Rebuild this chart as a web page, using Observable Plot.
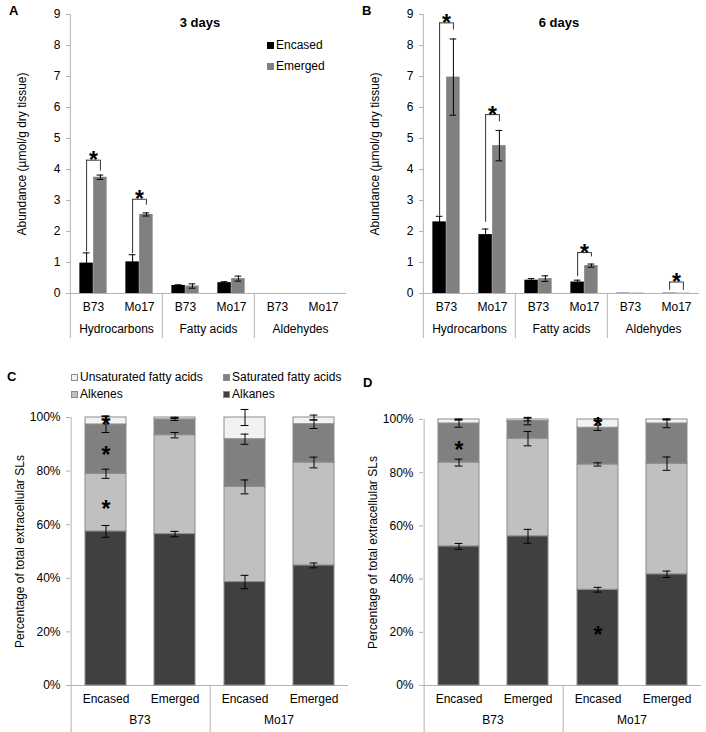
<!DOCTYPE html>
<html><head><meta charset="utf-8">
<script src="https://cdn.jsdelivr.net/npm/d3@7"></script>
<script src="https://cdn.jsdelivr.net/npm/@observablehq/plot@0.6"></script>
<style>
body{margin:0;background:#fff;font-family:"Liberation Sans",Arial,sans-serif;color:#000;}
#fig{position:relative;width:706px;height:732px;overflow:hidden;}
.panel{position:absolute;}
.lbl{position:absolute;font-weight:bold;font-size:13px;line-height:13px;}
.title{position:absolute;font-weight:bold;font-size:13px;line-height:13px;transform:translateX(-50%);white-space:nowrap;}
.leg{position:absolute;font-size:12px;line-height:12px;display:flex;align-items:center;white-space:nowrap;}
.sw{display:inline-block;width:7px;height:7px;margin-right:2px;box-sizing:border-box;}
</style></head><body><div id="fig"></div><script>
// ---------- Data: panels A & B ----------
const groupsAB = ["Hydrocarbons", "Fatty acids", "Aldehydes"];
const genotypes = ["B73", "Mo17"];
const conditions = ["Encased", "Emerged"];
// order: Hydrocarbons B73, Hydrocarbons Mo17, Fatty acids B73, Fatty acids Mo17, Aldehydes B73, Aldehydes Mo17
const day3Encased    = [0.98, 1.02, 0.26, 0.35, 0, 0];
const day3EncasedErr = [0.33, 0.23, 0.02, 0.03, 0, 0];
const day3Emerged    = [3.75, 2.55, 0.24, 0.48, 0, 0];
const day3EmergedErr = [0.07, 0.05, 0.07, 0.08, 0, 0];
const day6Encased    = [2.31, 1.90, 0.43, 0.37, 0.01, 0.01];
const day6EncasedErr = [0.18, 0.18, 0.05, 0.06, 0, 0];
const day6Emerged    = [6.98, 4.77, 0.48, 0.90, 0.01, 0.01];
const day6EmergedErr = [1.23, 0.49, 0.09, 0.05, 0, 0];
// significance brackets: [group, genotype, left leg bottom, bracket top, right leg bottom]
const day3Brackets = [
  ["Hydrocarbons", "B73", 1.35, 4.30, 3.95],
  ["Hydrocarbons", "Mo17", 1.28, 3.04, 2.85]
];
const day6Brackets = [
  ["Hydrocarbons", "B73", 2.50, 8.73, 8.50],
  ["Hydrocarbons", "Mo17", 2.30, 5.77, 5.54],
  ["Fatty acids", "Mo17", 0.54, 1.32, 1.18],
  ["Aldehydes", "Mo17", 0.10, 0.37, 0.10]
];
const abundanceTicks = [0, 1, 2, 3, 4, 5, 6, 7, 8, 9];

// ---------- Data: panels C & D ----------
const subclasses = ["Alkanes", "Alkenes", "Saturated fatty acids", "Unsaturated fatty acids"];
const subclassColors = ["#404040", "#c0c0c0", "#808080", "#f2f2f2"];
// bar order: B73 Encased, B73 Emerged, Mo17 Encased, Mo17 Emerged
const barGenotype = ["B73", "B73", "Mo17", "Mo17"];
const barCondition = ["Encased", "Emerged", "Encased", "Emerged"];
const c3Alkanes  = [57.5, 56.5, 38.6, 44.8];
const c3Alkenes  = [21.5, 36.9, 35.5, 38.4];
const c3SatFA    = [18.4, 5.9, 17.8, 14.3];
const c3UnsatFA  = [2.6, 0.7, 8.1, 2.5];
const c3AlkanesErr = [2.2, 1.0, 2.5, 0.9];
const c3AlkenesErr = [1.7, 1.0, 2.6, 2.0];
const c3SatFAErr   = [3.0, 0.4, 1.9, 1.6];
const c3UnsatFAErr = [0.6, 0.1, 3.0, 0.9];
const c6Alkanes  = [52.3, 56.1, 36.0, 41.8];
const c6Alkenes  = [31.5, 36.7, 47.1, 41.6];
const c6SatFA    = [14.7, 6.6, 13.8, 15.1];
const c6UnsatFA  = [1.5, 0.6, 3.1, 1.5];
const c6AlkanesErr = [1.1, 2.6, 0.9, 1.2];
const c6AlkenesErr = [1.3, 2.7, 0.6, 2.5];
const c6SatFAErr   = [1.4, 1.4, 1.0, 1.6];
const c6UnsatFAErr = [0.2, 0.5, 0.3, 0.2];
// stars: [genotype, condition, y position (%)]
const c3Stars = [["B73", "Encased", 99.0], ["B73", "Encased", 87.8], ["B73", "Encased", 67.6]];
const c6Stars = [["B73", "Encased", 90.3], ["Mo17", "Encased", 99.1], ["Mo17", "Encased", 20.7]];
const percentTicks = [0, 20, 40, 60, 80, 100];

// ---------- Styles ----------
const AXIS = "#b3b3b3";
const FONT = "Liberation Sans, Arial, sans-serif";
const plotStyle = {fontFamily: FONT, fontSize: "12px", color: "#000", background: "transparent", overflow: "visible"};

function separators(groups, firstSub, step, below) {
  return [
    // y axis line: full height, extended below the category axis
    Plot.ruleX(groups.slice(0, 1), {fx: d => d, x: () => firstSub, dx: -step / 2, stroke: AXIS, insetBottom: -below}),
    // group separators: from the baseline down
    Plot.ruleX(groups.slice(1), {fx: d => d, x: () => firstSub, y1: () => 0, y2: () => 0, dx: -step / 2, stroke: AXIS, insetBottom: -below})
  ];
}

function abundancePanel(enc, encErr, em, emErr, brackets) {
  const W = 353, H = 340, mL = 69, mR = 6, mT = 14, mB = 47;
  const step = (W - mL - mR) / groupsAB.length / genotypes.length;
  const half = 6.9; // half bar width
  const rows = [];
  groupsAB.forEach((g, gi) => genotypes.forEach((t, ti) => {
    const i = gi * genotypes.length + ti;
    rows.push({group: g, genotype: t, condition: "Encased", value: enc[i], err: encErr[i]});
    rows.push({group: g, genotype: t, condition: "Emerged", value: em[i], err: emErr[i]});
  }));
  const br = brackets.map(([group, genotype, left, top, right]) => ({group, genotype, left, top, right}));
  const marks = [
    ...separators(groupsAB, genotypes[0], step, 45),
    Plot.ruleY([0], {stroke: AXIS}),
    Plot.axisY({ticks: abundanceTicks, tickSize: 4, tickPadding: 6, stroke: AXIS, fill: "#000",
      label: "Abundance (µmol/g dry tissue)", labelAnchor: "center", labelArrow: false, labelOffset: 53, fontSize: 12}),
    Plot.axisX({tickSize: 0, tickPadding: 9, fontSize: 12, label: null}),
    Plot.axisFx({anchor: "bottom", tickSize: 0, tickPadding: 31, fontSize: 12, label: null})
  ];
  conditions.forEach((c, ci) => {
    const dx = ci === 0 ? -half : half;
    const sub = rows.filter(d => d.condition === c);
    const withErr = sub.filter(d => d.err > 0);
    marks.push(
      Plot.barY(sub, {fx: "group", x: "genotype", y: "value", fill: ci === 0 ? "#000" : "#808080",
        insetLeft: step / 2 - half, insetRight: step / 2 - half, dx}),
      Plot.ruleX(withErr, {fx: "group", x: "genotype", y1: d => d.value - d.err, y2: d => d.value + d.err, dx, stroke: "#000", strokeWidth: 1}),
      Plot.tickY(withErr, {fx: "group", x: "genotype", y: d => d.value + d.err, dx, stroke: "#000", insetLeft: step / 2 - 3.5, insetRight: step / 2 - 3.5}),
      Plot.tickY(withErr, {fx: "group", x: "genotype", y: d => d.value - d.err, dx, stroke: "#000", insetLeft: step / 2 - 3.5, insetRight: step / 2 - 3.5})
    );
  });
  marks.push(
    Plot.ruleX(br, {fx: "group", x: "genotype", y1: "left", y2: "top", dx: -half, stroke: "#333"}),
    Plot.ruleX(br, {fx: "group", x: "genotype", y1: "right", y2: "top", dx: half, stroke: "#333"}),
    Plot.tickY(br, {fx: "group", x: "genotype", y: "top", stroke: "#333", insetLeft: step / 2 - half, insetRight: step / 2 - half}),
    Plot.text(br, {fx: "group", x: "genotype", y: "top", text: () => "*", fontSize: 23, fontWeight: "bold", lineAnchor: "bottom", dy: 8, fill: "#000"})
  );
  return Plot.plot({
    width: W, height: H, marginLeft: mL, marginRight: mR, marginTop: mT, marginBottom: mB,
    style: plotStyle,
    fx: {domain: groupsAB, padding: 0, label: null},
    x: {domain: genotypes, padding: 0, label: null},
    y: {domain: [0, 9], label: null},
    marks
  });
}

function percentPanel(alk, alkE, ene, eneE, sat, satE, uns, unsE, stars, mT) {
  const W = 353, H = 372, mL = 69, mR = 5, mB = 47;
  const step = (W - mL - mR) / genotypes.length / conditions.length;
  const pi = 0.41;
  const comps = [alk, ene, sat, uns], errs = [alkE, eneE, satE, unsE];
  const rows = [], errRows = [];
  barGenotype.forEach((g, i) => {
    let cum = 0;
    subclasses.forEach((s, si) => {
      rows.push({genotype: g, condition: barCondition[i], subclass: s, value: comps[si][i]});
      cum += comps[si][i];
      errRows.push({genotype: g, condition: barCondition[i], top: cum, err: errs[si][i]});
    });
  });
  const st = stars.map(([genotype, condition, y]) => ({genotype, condition, y}));
  const capInset = (step * (1 - pi) - 8) / 2;
  return Plot.plot({
    width: W, height: H, marginLeft: mL, marginRight: mR, marginTop: mT, marginBottom: mB,
    style: plotStyle,
    fx: {domain: genotypes, padding: 0, label: null},
    x: {domain: conditions, paddingInner: pi, paddingOuter: pi / 2, label: null},
    y: {domain: [0, 100], label: null},
    color: {domain: subclasses, range: subclassColors},
    marks: [
      ...separators(genotypes, conditions[0], step, 47),
      Plot.ruleY([0], {stroke: AXIS}),
      Plot.axisY({ticks: percentTicks, tickFormat: d => d + "%", tickSize: 4, tickPadding: 6, stroke: AXIS, fill: "#000",
        label: "Percentage of total extracellular SLs", labelAnchor: "center", labelArrow: false, labelOffset: 55, fontSize: 12}),
      Plot.axisX({tickSize: 0, tickPadding: 9, fontSize: 12, label: null}),
      Plot.axisFx({anchor: "bottom", tickSize: 0, tickPadding: 30, fontSize: 12, label: null}),
      Plot.barY(rows, {fx: "genotype", x: "condition", y: "value", fill: "subclass", stroke: "#8c8c8c", strokeWidth: 1}),
      Plot.ruleX(errRows, {fx: "genotype", x: "condition", y1: d => d.top - d.err, y2: d => d.top + d.err, stroke: "#000"}),
      Plot.tickY(errRows, {fx: "genotype", x: "condition", y: d => d.top + d.err, stroke: "#000", insetLeft: capInset, insetRight: capInset}),
      Plot.tickY(errRows, {fx: "genotype", x: "condition", y: d => d.top - d.err, stroke: "#000", insetLeft: capInset, insetRight: capInset}),
      Plot.text(st, {fx: "genotype", x: "condition", y: "y", text: () => "*", fontSize: 23, fontWeight: "bold", lineAnchor: "middle", dy: 5, fill: "#000"})
    ]
  });
}

const fig = document.getElementById("fig");
function place(el, x, y) { const d = document.createElement("div"); d.className = "panel"; d.style.left = x + "px"; d.style.top = y + "px"; d.appendChild(el); fig.appendChild(d); }
function addText(cls, text, x, y) { const d = document.createElement("div"); d.className = cls; d.textContent = text; d.style.left = x + "px"; d.style.top = y + "px"; fig.appendChild(d); }
function addLegend(label, color, border, x, y) {
  const d = document.createElement("div"); d.className = "leg"; d.style.left = x + "px"; d.style.top = y + "px";
  const s = document.createElement("span"); s.className = "sw"; s.style.background = color; s.style.border = "1px solid " + border;
  d.appendChild(s); d.appendChild(document.createTextNode(label)); fig.appendChild(d);
}

place(abundancePanel(day3Encased, day3EncasedErr, day3Emerged, day3EmergedErr, day3Brackets), 0, 0);
place(abundancePanel(day6Encased, day6EncasedErr, day6Emerged, day6EmergedErr, day6Brackets), 353, 0);
place(percentPanel(c3Alkanes, c3AlkanesErr, c3Alkenes, c3AlkenesErr, c3SatFA, c3SatFAErr, c3UnsatFA, c3UnsatFAErr, c3Stars, 57), 0, 360);
place(percentPanel(c6Alkanes, c6AlkanesErr, c6Alkenes, c6AlkenesErr, c6SatFA, c6SatFAErr, c6UnsatFA, c6UnsatFAErr, c6Stars, 59), 353, 360);

addText("lbl", "A", 9, 4);
addText("lbl", "B", 362, 4);
addText("lbl", "C", 7, 370);
addText("lbl", "D", 363, 376);
addText("title", "3 days", 200, 16);
addText("title", "6 days", 559, 16);
addLegend(conditions[0], "#000", "#000", 267, 39);
addLegend(conditions[1], "#808080", "#808080", 267, 60);
addLegend(subclasses[3], subclassColors[3], "#8c8c8c", 71, 371);
addLegend(subclasses[2], subclassColors[2], "#8c8c8c", 223, 371);
addLegend(subclasses[1], subclassColors[1], "#8c8c8c", 71, 388);
addLegend(subclasses[0], subclassColors[0], "#8c8c8c", 223, 388);
</script></body></html>
